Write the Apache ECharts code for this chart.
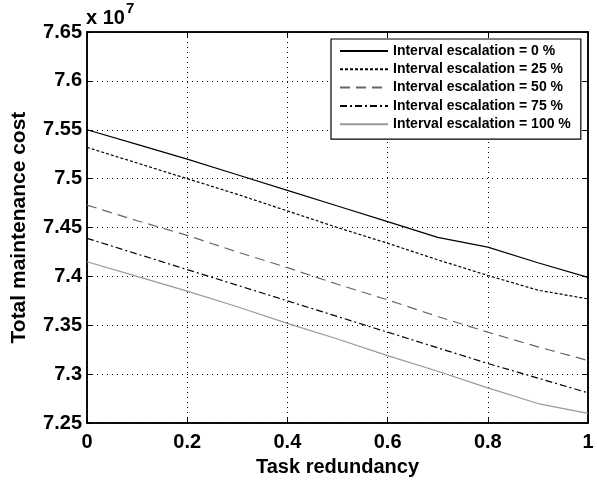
<!DOCTYPE html>
<html>
<head>
<meta charset="utf-8">
<script src="https://cdn.jsdelivr.net/npm/echarts@6/dist/echarts.min.js"></script>
<style>
html,body{margin:0;padding:0;background:#fff;}
#c{width:597px;height:482px;}
</style>
</head>
<body>
<div id="c"></div>
<script>
const xValues = [0, 0.1, 0.2, 0.3, 0.4, 0.5, 0.6, 0.7, 0.8, 0.9, 1];
const seriesNames = ['Interval escalation = 0 %', 'Interval escalation = 25 %', 'Interval escalation = 50 %', 'Interval escalation = 75 %', 'Interval escalation = 100 %'];
const esc0   = [7.550, 7.535, 7.520, 7.504, 7.488, 7.472, 7.456, 7.440, 7.430, 7.414, 7.399];
const esc25  = [7.532, 7.516, 7.500, 7.484, 7.467, 7.450, 7.434, 7.417, 7.401, 7.386, 7.377];
const esc50  = [7.473, 7.457, 7.442, 7.425, 7.409, 7.392, 7.376, 7.359, 7.343, 7.328, 7.314];
const esc75  = [7.439, 7.423, 7.407, 7.391, 7.375, 7.359, 7.343, 7.327, 7.311, 7.296, 7.281];
const esc100 = [7.415, 7.400, 7.385, 7.369, 7.352, 7.336, 7.319, 7.303, 7.286, 7.270, 7.260];
const xTicks = [0, 0.2, 0.4, 0.6, 0.8, 1];
const yTicks = [7.25, 7.3, 7.35, 7.4, 7.45, 7.5, 7.55, 7.6, 7.65];

const allValues = [esc0, esc25, esc50, esc75, esc100];
const styles = [
  {color: '#000000', type: 'solid', width: 1.2},
  {color: '#000000', type: [3, 2], width: 1.2},
  {color: '#666666', type: [10, 6], width: 1.2},
  {color: '#000000', type: [7, 3, 2, 3], width: 1.2},
  {color: '#999999', type: 'solid', width: 1.2}
];
const FONT = '"Liberation Sans", Arial, Helvetica, sans-serif';

const chart = echarts.init(document.getElementById('c'), null, {renderer: 'canvas'});
const series = allValues.map((vals, i) => ({
  name: seriesNames[i],
  type: 'line',
  symbol: 'none',
  showSymbol: false,
  animation: false,
  data: vals.map((v, k) => [xValues[k], v]),
  lineStyle: styles[i],
  itemStyle: {color: styles[i].color}
}));

const axisLabelStyle = {color: '#000', fontFamily: FONT, fontWeight: 'bold', fontSize: 20};
chart.setOption({
  backgroundColor: '#ffffff',
  animation: false,
  grid: {left: 87, right: 9, top: 32, bottom: 55, show: true, borderColor: '#000', borderWidth: 1.5, backgroundColor: 'transparent'},
  legend: {
    orient: 'vertical', left: 331, top: 39,
    padding: [5, 10, 8, 8], itemGap: 4.3, itemWidth: 48, itemHeight: 14,
    backgroundColor: '#fff', borderColor: '#000', borderWidth: 1.2,
    itemStyle: {opacity: 0, borderWidth: 0},
    textStyle: {color: '#000', fontFamily: FONT, fontWeight: 'bold', fontSize: 14},
    data: seriesNames
  },
  xAxis: [{
    type: 'value', min: 0, max: 1, interval: 0.2,
    axisLine: {show: true, onZero: false, lineStyle: {color: '#000', width: 1.5}},
    axisTick: {show: true, inside: true, length: 5, lineStyle: {color: '#000'}},
    axisLabel: Object.assign({margin: 9, formatter: v => String(+v.toFixed(1))}, axisLabelStyle),
    splitLine: {show: true, lineStyle: {color: '#000', type: [1, 4], width: 1}},
    name: 'Task redundancy', nameLocation: 'middle', nameGap: 29,
    nameTextStyle: {color: '#000', fontFamily: FONT, fontWeight: 'bold', fontSize: 20}
  }, {
    type: 'value', min: 0, max: 1, interval: 0.2, position: 'top',
    axisLine: {show: true, onZero: false, lineStyle: {color: '#000', width: 1.5}},
    axisTick: {show: true, inside: true, length: 5, lineStyle: {color: '#000'}},
    axisLabel: {show: false}, splitLine: {show: false}
  }],
  yAxis: [{
    type: 'value', min: 7.25, max: 7.65, interval: 0.05,
    axisLine: {show: true, onZero: false, lineStyle: {color: '#000', width: 1.5}},
    axisTick: {show: true, inside: true, length: 5, lineStyle: {color: '#000'}},
    axisLabel: Object.assign({margin: 5, formatter: v => String(+v.toFixed(2))}, axisLabelStyle),
    splitLine: {show: true, lineStyle: {color: '#000', type: [1, 4], width: 1}},
    name: 'Total maintenance cost', nameLocation: 'middle', nameGap: 57,
    nameTextStyle: {color: '#000', fontFamily: FONT, fontWeight: 'bold', fontSize: 21}
  }, {
    type: 'value', min: 7.25, max: 7.65, interval: 0.05, position: 'right',
    axisLine: {show: true, onZero: false, lineStyle: {color: '#000', width: 1.5}},
    axisTick: {show: true, inside: true, length: 5, lineStyle: {color: '#000'}},
    axisLabel: {show: false}, splitLine: {show: false}
  }],
  graphic: [{
    type: 'text', left: 86, top: 1,
    style: {
      text: '{a|x 10}{b|7}',
      rich: {
        a: {fontFamily: FONT, fontWeight: 'bold', fontSize: 20, fill: '#000', padding: [12, 0, 0, 0]},
        b: {fontFamily: FONT, fontWeight: 'bold', fontSize: 15, fill: '#000', padding: [0, 0, 8, 1]}
      }
    }
  }],
  series: series
});
</script>
</body>
</html>
